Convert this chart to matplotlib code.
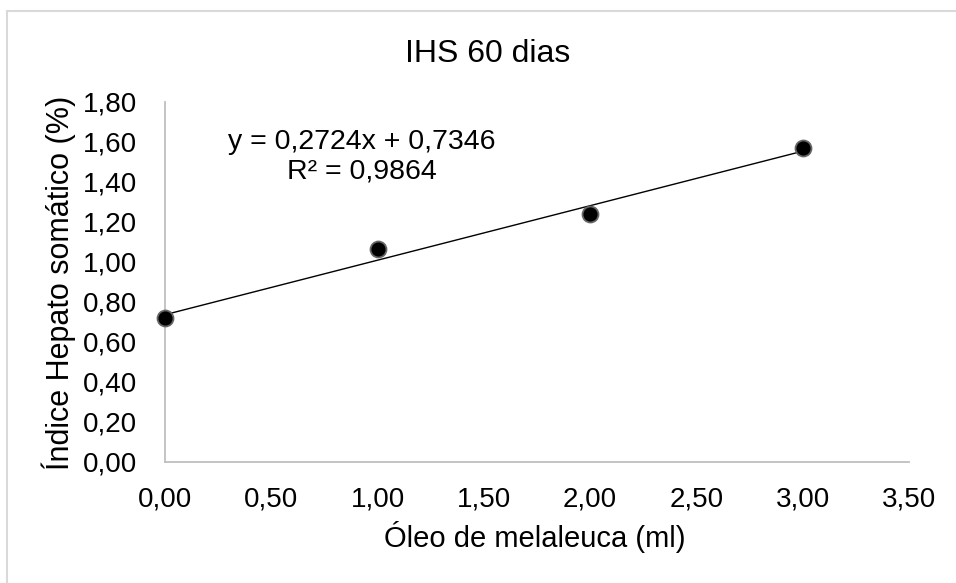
import numpy as np
import matplotlib
matplotlib.use("Agg")
import matplotlib.pyplot as plt
from matplotlib.patches import Rectangle
from matplotlib.ticker import FuncFormatter, MultipleLocator

# dados
oleo_ml = [0.0, 1.0, 2.0, 3.0]
ihs = [0.718, 1.063, 1.238, 1.570]

# linha de tendencia (Excel)
slope = 0.2724
intercept = 0.7346
r2 = 0.9864

W, H = 956, 583
plt.rcParams['font.family'] = ['Liberation Sans', 'DejaVu Sans']

fig = plt.figure(figsize=(W / 100, H / 100), dpi=100)
fig.patch.set_facecolor('white')

# borda da area do grafico
fig.patches.append(Rectangle((7 / W, -0.05), 1.2, 1 - 11 / H + 0.05,
                             transform=fig.transFigure, fill=False,
                             edgecolor='#d9d9d9', linewidth=1.5))

ax = fig.add_axes([165 / W, 1 - 461.7 / H, (909 - 165) / W, (461.7 - 101.5) / H])

xt = np.array([oleo_ml[0], oleo_ml[-1]])
ax.plot(xt, slope * xt + intercept, color='black', linewidth=1.0, zorder=2)
ax.plot(oleo_ml, ihs, 'o', color='black', markersize=11.5,
        markeredgecolor='#666666', markeredgewidth=1.3, zorder=3, clip_on=False)

ax.set_xlim(0, 3.5)
ax.set_ylim(0, 1.8)
ax.xaxis.set_major_locator(MultipleLocator(0.5))
ax.yaxis.set_major_locator(MultipleLocator(0.2))
fmt = FuncFormatter(lambda v, p: f"{v:.2f}".replace('.', ','))
ax.xaxis.set_major_formatter(fmt)
ax.yaxis.set_major_formatter(fmt)
ax.tick_params(axis='both', length=0, labelsize=20, colors='black')
ax.tick_params(axis='y', pad=20)
ax.tick_params(axis='x', pad=17.5)

for s in ['top', 'right']:
    ax.spines[s].set_visible(False)
for s in ['left', 'bottom']:
    ax.spines[s].set_color('#bfbfbf')
    ax.spines[s].set_linewidth(1.3)

fig.text(488 / W, 1 - 62 / H, 'IHS 60 dias', fontsize=23, ha='center', va='baseline')
fig.text(535 / W, 1 - 547 / H, 'Óleo de melaleuca (ml)', fontsize=21, ha='center', va='baseline')
fig.text(59 / W, 1 - 283 / H, 'Índice Hepato somático (%)', fontsize=22,
         rotation=90, ha='center', va='center')

eq = f"y = {slope:.4f}x + {intercept:.4f}".replace('.', ',') + "\n" + f"R² = {r2:.4f}".replace('.', ',')
fig.text(362 / W, 1 - 157 / H, eq, fontsize=20.5, ha='center', va='center',
         multialignment='center')

fig.savefig('out.png', dpi=100)
